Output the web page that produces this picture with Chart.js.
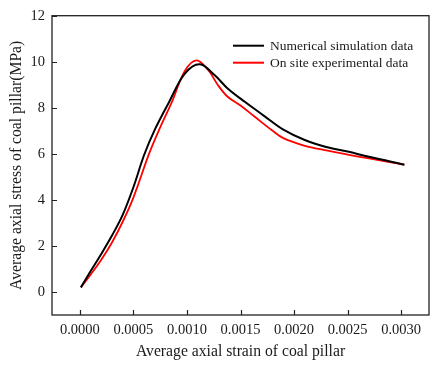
<!DOCTYPE html>
<html>
<head>
<meta charset="utf-8">
<script src="https://cdn.jsdelivr.net/npm/chart.js@4/dist/chart.umd.min.js"></script>
<style>
  html, body { margin: 0; padding: 0; background: #ffffff; }
  #wrap { width: 437px; height: 368px; }
</style>
</head>
<body>
<div id="wrap"><canvas id="c" width="437" height="368"></canvas></div>
<script>
// ---- data ----
const xTicks = [0, 0.0005, 0.001, 0.0015, 0.002, 0.0025, 0.003];
const yTicks = [0, 2, 4, 6, 8, 10, 12];

const simLabel = 'Numerical simulation data';
const simStrain = [0.00001, 0.0001, 0.0002, 0.0003, 0.0004, 0.0005, 0.0006, 0.0007, 0.00083, 0.00098, 0.00112, 0.00126, 0.00138, 0.00154, 0.00172, 0.0019, 0.0021, 0.0023, 0.0025, 0.0027, 0.00303];
const simStress = [0.2, 0.9, 1.65, 2.45, 3.35, 4.55, 5.95, 7.05, 8.22, 9.48, 9.89, 9.41, 8.84, 8.26, 7.65, 7.05, 6.6, 6.3, 6.1, 5.87, 5.53];

const expLabel = 'On site experimental data';
const expStrain = [0.00001, 0.0001, 0.0002, 0.0003, 0.0004, 0.0005, 0.00065, 0.00075, 0.00086, 0.00098, 0.00109, 0.0012, 0.00129, 0.00138, 0.0015, 0.00163, 0.0018, 0.0019, 0.0021, 0.0023, 0.0025, 0.0027, 0.00303];
const expStress = [0.2, 0.75, 1.4, 2.15, 3.05, 4.1, 6.05, 7.15, 8.26, 9.6, 10.06, 9.63, 8.98, 8.48, 8.1, 7.62, 7.0, 6.68, 6.35, 6.15, 5.97, 5.8, 5.53];

const xTitle = 'Average axial strain of coal pillar';
const yTitle = 'Average axial stress of coal pillar(MPa)';

const toPts = (xs, ys) => xs.map((x, i) => ({ x: x, y: ys[i] }));

const FONT = '"Liberation Serif", "Times New Roman", serif';
const TEXT = '#1a1a1a';

const framePlugin = {
  id: 'frame',
  afterDraw(chart) {
    const ctx = chart.ctx;
    const a = chart.chartArea;
    const xs = chart.scales.x, ys = chart.scales.y;
    ctx.save();
    ctx.strokeStyle = '#222';
    ctx.lineWidth = 1.3;
    ctx.strokeRect(a.left, a.top, a.right - a.left, a.bottom - a.top);
    ctx.lineWidth = 1.2;
    ctx.beginPath();
    xTicks.forEach(v => {
      const px = Math.round(xs.getPixelForValue(v)) + 0.5;
      ctx.moveTo(px, a.bottom);
      ctx.lineTo(px, a.bottom - 5);
    });
    yTicks.forEach(v => {
      const py = Math.round(ys.getPixelForValue(v)) + 0.5;
      ctx.moveTo(a.left, py);
      ctx.lineTo(a.left + 5, py);
    });
    ctx.stroke();

    // legend
    const lx0 = a.left + 181, lx1 = a.left + 212, tx = a.left + 218;
    const rows = [a.top + 30, a.top + 47];
    ctx.font = '13.5px ' + FONT;
    ctx.textBaseline = 'middle';
    ctx.textAlign = 'left';
    chart.data.datasets.forEach((ds, i) => {
      ctx.strokeStyle = ds.borderColor;
      ctx.lineWidth = 2;
      ctx.beginPath();
      ctx.moveTo(lx0, rows[i]);
      ctx.lineTo(lx1, rows[i]);
      ctx.stroke();
      ctx.fillStyle = TEXT;
      ctx.fillText(ds.label, tx, rows[i] + 0.5);
    });
    ctx.restore();
  }
};

new Chart(document.getElementById('c'), {
  type: 'scatter',
  data: {
    datasets: [
      { label: simLabel, data: toPts(simStrain, simStress), showLine: true, borderColor: '#000000', backgroundColor: '#000000', borderWidth: 2, pointRadius: 0, tension: 0.35 },
      { label: expLabel, data: toPts(expStrain, expStress), showLine: true, borderColor: '#ff0000', backgroundColor: '#ff0000', borderWidth: 1.8, pointRadius: 0, tension: 0.35 }
    ]
  },
  options: {
    responsive: false,
    animation: false,
    devicePixelRatio: 1,
    layout: { padding: { top: 13, right: 8, left: 0, bottom: 0 } },
    plugins: { legend: { display: false }, tooltip: { enabled: false } },
    scales: {
      x: {
        type: 'linear',
        min: -0.00026,
        max: 0.00326,
        grid: { display: false, drawTicks: false },
        border: { display: false },
        afterBuildTicks: s => { s.ticks = xTicks.map(v => ({ value: v })); },
        afterFit: s => { s.height = 53; },
        ticks: { color: TEXT, font: { family: FONT, size: 14.5 }, padding: 6, maxRotation: 0, callback: v => Number(v).toFixed(4) },
        title: { display: true, text: xTitle, color: TEXT, font: { family: FONT, size: 15.7 }, padding: { top: 0, bottom: 7 } }
      },
      y: {
        type: 'linear',
        min: -1,
        max: 12,
        grid: { display: false, drawTicks: false },
        border: { display: false },
        afterBuildTicks: s => { s.ticks = yTicks.map(v => ({ value: v })); },
        afterFit: s => { s.width = 52; },
        ticks: { color: TEXT, font: { family: FONT, size: 14.5 }, padding: 7, callback: v => String(v) },
        title: { display: true, text: yTitle, color: TEXT, font: { family: FONT, size: 15.7 }, padding: { top: 7.6, bottom: 0 } }
      }
    }
  },
  plugins: [framePlugin]
});
</script>
</body>
</html>
